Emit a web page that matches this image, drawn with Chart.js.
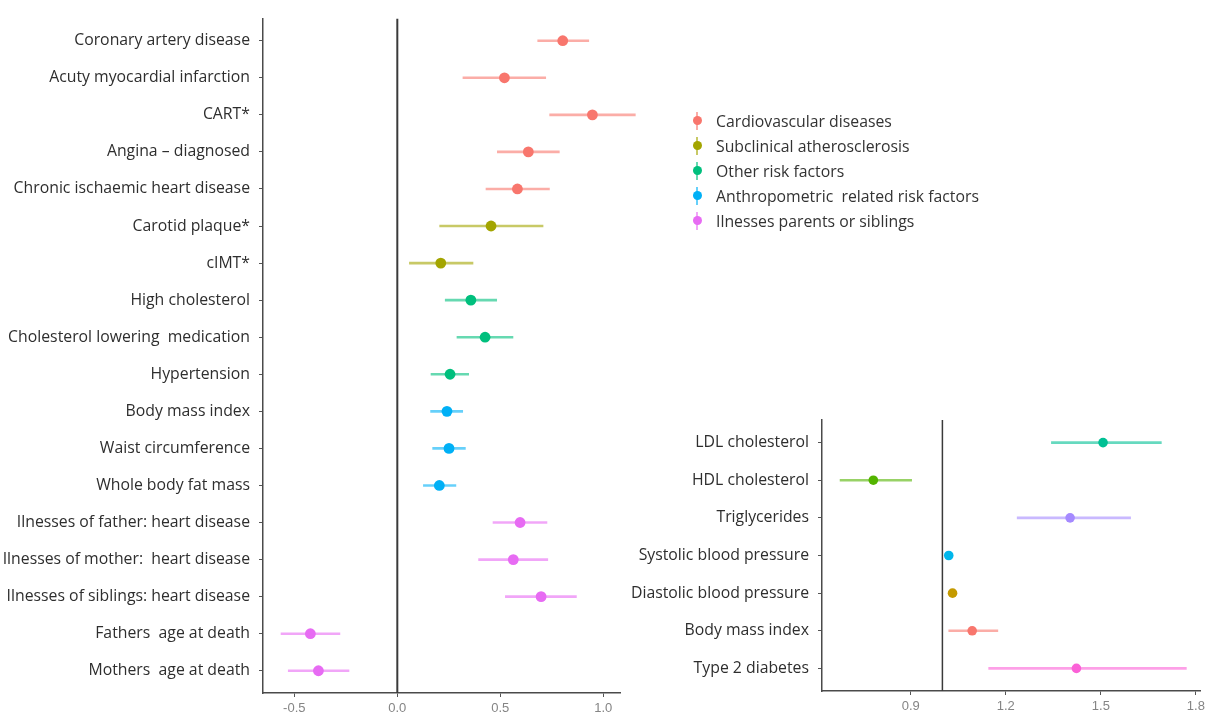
<!DOCTYPE html>
<html>
<head>
<meta charset="utf-8">
<script src="https://cdn.jsdelivr.net/npm/chart.js@4.4.1/dist/chart.umd.min.js"></script>
<style>
  body { margin: 0; background: #fff; width: 1213px; height: 715px; overflow: hidden; position: relative; font-family: "Open Sans", sans-serif; }
  #left { position: absolute; left: 0; top: 0; }
  #right { position: absolute; left: 620px; top: 0; }
  #legend { position: absolute; left: 689px; top: 108px; color: #333; font-size: 15.8px; white-space: pre; }
  .item { height: 25px; display: flex; align-items: center; }
  .glyph { position: relative; width: 16px; height: 20px; margin-right: 11px; }
  .glyph .bar { position: absolute; left: 7px; top: 1px; width: 2px; height: 18px; }
  .glyph .dot { position: absolute; left: 3.5px; top: 5.5px; width: 9px; height: 9px; border-radius: 50%; }
</style>
</head>
<body>
<canvas id="left" width="640" height="715"></canvas>
<canvas id="right" width="593" height="715"></canvas>
<div id="legend"></div>
<script>
// ---- left panel: effect estimates (beta) ----
const leftCategories = [
  'Coronary artery disease', 'Acuty myocardial infarction', 'CART*', 'Angina \u2013 diagnosed',
  'Chronic ischaemic heart disease', 'Carotid plaque*', 'cIMT*', 'High cholesterol',
  'Cholesterol lowering  medication', 'Hypertension', 'Body mass index', 'Waist circumference',
  'Whole body fat mass', 'Ilnesses of father: heart disease', 'Ilnesses of mother:  heart disease',
  'Ilnesses of siblings: heart disease', 'Fathers  age at death', 'Mothers  age at death'
];
const leftGroups = [
  'Cardiovascular diseases', 'Subclinical atherosclerosis', 'Other risk factors',
  'Anthropometric  related risk factors', 'Ilnesses parents or siblings'
];
const leftGroupOf = [0, 0, 0, 0, 0, 1, 1, 2, 2, 2, 3, 3, 3, 4, 4, 4, 4, 4];
const leftEst = [0.803, 0.520, 0.947, 0.636, 0.583, 0.455, 0.211, 0.357, 0.426, 0.256, 0.241, 0.251, 0.204, 0.596, 0.563, 0.698, -0.422, -0.383];
const leftLo  = [0.680, 0.317, 0.738, 0.484, 0.429, 0.204, 0.057, 0.231, 0.288, 0.162, 0.160, 0.170, 0.125, 0.463, 0.393, 0.523, -0.566, -0.531];
const leftHi  = [0.931, 0.722, 1.157, 0.788, 0.740, 0.709, 0.369, 0.484, 0.563, 0.348, 0.319, 0.332, 0.286, 0.728, 0.732, 0.871, -0.277, -0.233];
const leftTicks = [-0.5, 0.0, 0.5, 1.0];
const leftRef = 0;

// ---- right panel: odds ratios ----
const rightCategories = [
  'LDL cholesterol', 'HDL cholesterol', 'Triglycerides', 'Systolic blood pressure',
  'Diastolic blood pressure', 'Body mass index', 'Type 2 diabetes'
];
const rightEst = [1.507, 0.782, 1.403, 1.020, 1.032, 1.094, 1.423];
const rightLo  = [1.343, 0.676, 1.235, 1.012, 1.024, 1.019, 1.145];
const rightHi  = [1.692, 0.904, 1.595, 1.028, 1.040, 1.176, 1.771];
const rightTicks = [0.9, 1.2, 1.5, 1.8];
const rightRef = 1.0;

const groupColors = ['#F8766D', '#A3A500', '#00BF7D', '#00B0F6', '#E76BF3'];
const rightColors = ['#00C094', '#53B400', '#A58AFF', '#00B6EB', '#C49A00', '#F8766D', '#FB61D7'];

function fade(hex, a) {
  const n = parseInt(hex.slice(1), 16);
  return `rgba(${n >> 16},${(n >> 8) & 255},${n & 255},${a})`;
}

// horizontal CI segments, drawn under the points
const errorBars = {
  id: 'errorBars',
  beforeDatasetsDraw(chart, args, opts) {
    const { ctx, scales: { x, y } } = chart;
    chart.data.datasets.forEach(ds => {
      if (!ds.ciColor) return;
      ds.data.forEach(p => {
        const yy = y.getPixelForValue(p.y);
        ctx.save();
        ctx.strokeStyle = ds.ciColor;
        ctx.lineWidth = opts.width || 2.5;
        ctx.beginPath();
        ctx.moveTo(x.getPixelForValue(p.lo), yy);
        ctx.lineTo(x.getPixelForValue(p.hi), yy);
        ctx.stroke();
        ctx.restore();
      });
    });
  }
};

function forestChart(canvasId, cfg) {
  const n = cfg.categories.length;
  const datasets = cfg.series.map(s => ({
    type: 'scatter',
    data: s.idx.map(i => ({ x: cfg.est[i], y: i + 1, lo: cfg.lo[i], hi: cfg.hi[i] })),
    backgroundColor: s.color,
    borderWidth: 0,
    pointRadius: cfg.radius,
    ciColor: fade(s.color, 0.6),
    clip: false,
  }));
  datasets.unshift({
    type: 'scatter',
    showLine: true,
    data: [{ x: cfg.ref, y: 0.4 }, { x: cfg.ref, y: n + 0.6 }],
    borderColor: '#3a3a3a',
    borderWidth: cfg.refWidth,
    pointRadius: 0,
  });

  return new Chart(document.getElementById(canvasId), {
    type: 'scatter',
    data: { datasets },
    plugins: [errorBars],
    options: {
      responsive: false,
      animation: false,
      layout: { padding: cfg.padding },
      plugins: {
        legend: { display: false },
        tooltip: { enabled: false },
        errorBars: { width: 2.6 },
      },
      scales: {
        x: {
          type: 'linear',
          min: cfg.xmin,
          max: cfg.xmax,
          afterBuildTicks: s => { s.ticks = cfg.ticks.map(v => ({ value: v })); },
          afterFit: s => { s.height = cfg.xHeight; },
          ticks: {
            callback: v => v.toFixed(1),
            color: '#858585',
            font: { family: 'Liberation Sans', size: 13 },
            padding: 4,
            maxRotation: 0,
          },
          grid: { display: true, drawOnChartArea: false, drawTicks: true, tickLength: 4, color: '#555' },
          border: { display: true, color: '#4a4a4a', width: 1.5 },
        },
        y: {
          type: 'linear',
          reverse: true,
          min: 0.4,
          max: n + 0.6,
          afterBuildTicks: s => { s.ticks = cfg.categories.map((c, i) => ({ value: i + 1 })); },
          afterFit: s => { s.width = cfg.yWidth; },
          ticks: {
            callback: v => cfg.categories[v - 1],
            color: '#2e2e2e',
            font: { family: 'Open Sans', size: 15.8 },
            padding: 9,
            autoSkip: false,
          },
          grid: { display: true, drawOnChartArea: false, drawTicks: true, tickLength: 4, color: '#555' },
          border: { display: true, color: '#4a4a4a', width: 1.5 },
        },
      },
    },
  });
}

forestChart('left', {
  categories: leftCategories,
  est: leftEst, lo: leftLo, hi: leftHi,
  series: leftGroups.map((g, k) => ({
    color: groupColors[k],
    idx: leftGroupOf.map((gi, i) => gi === k ? i : -1).filter(i => i >= 0),
  })),
  ticks: leftTicks, ref: leftRef,
  xmin: -0.652, xmax: 1.081,
  radius: 5.4, refWidth: 2,
  padding: { top: 15, right: 20, left: 0, bottom: 0 },
  xHeight: 22, yWidth: 263,
});

forestChart('right', {
  categories: rightCategories,
  est: rightEst, lo: rightLo, hi: rightHi,
  series: rightCategories.map((c, i) => ({ color: rightColors[i], idx: [i] })),
  ticks: rightTicks, ref: rightRef,
  xmin: 0.620, xmax: 1.813,
  radius: 4.8, refWidth: 1.5,
  padding: { top: 420, right: 13, left: 0, bottom: 0 },
  xHeight: 24, yWidth: 202,
});

// legend for the left panel groups
const legend = document.getElementById('legend');
leftGroups.forEach((g, k) => {
  const item = document.createElement('div');
  item.className = 'item';
  item.innerHTML = `<span class="glyph"><span class="bar" style="background:${fade(groupColors[k], 0.6)}"></span>` +
    `<span class="dot" style="background:${groupColors[k]}"></span></span><span></span>`;
  item.lastChild.textContent = g;
  legend.appendChild(item);
});
</script>
</body>
</html>
